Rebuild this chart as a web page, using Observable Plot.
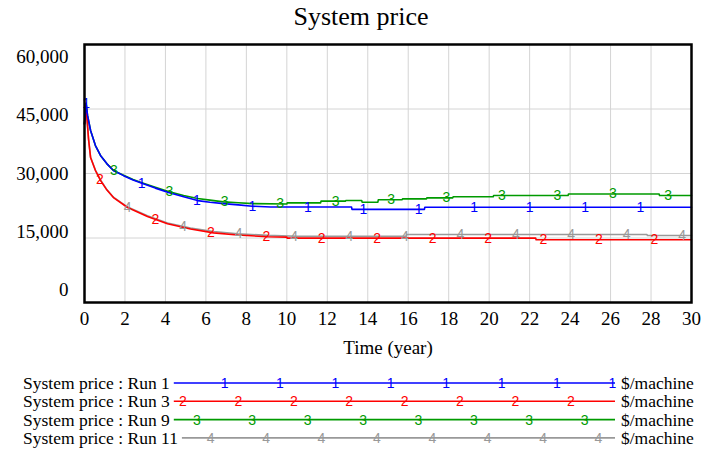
<!DOCTYPE html>
<html><head><meta charset="utf-8">
<script src="https://cdn.jsdelivr.net/npm/d3@7"></script>
<script src="https://cdn.jsdelivr.net/npm/@observablehq/plot@0.6"></script>
<style>
body{margin:0;background:#fff;font-family:"Liberation Serif","Times New Roman",serif;}
#title{width:707px;height:34px;line-height:34px;box-sizing:border-box;padding-left:15px;text-align:center;font-size:26px;color:#000;}
svg{display:block;}
</style></head>
<body>
<div id="title">System price</div>
<div id="chart"></div>
<div id="legend"></div>
<script>
// ---- data ----
const time1  = [0, 0.08, 0.15, 0.3, 0.54, 0.79, 1.1, 1.43, 1.93, 2.4, 2.87, 3.5, 4.15, 4.9, 5.59, 6.2, 6.87, 7.6, 8.3, 9.2, 13.2, 13.22, 16.8, 16.82, 30];
const price1 = [41500, 46300, 43500, 40000, 36500, 34200, 32300, 30700, 29500, 28500, 27700, 26600, 25600, 24600, 23700, 23300, 23000, 22700, 22400, 22200, 22200, 21650, 21650, 22150, 22150];

const time3  = [0, 0.08, 0.2, 0.3, 0.54, 0.79, 1.1, 1.43, 2.13, 3.11, 4.1, 5.24, 6.38, 7.56, 9.05, 10.0, 10.02, 22.3, 22.32, 30];
const price3 = [41500, 45500, 38000, 33700, 30700, 28400, 26200, 24400, 22100, 20000, 18300, 17100, 16200, 15700, 15300, 15200, 14960, 14960, 14580, 14580];

const time9  = [0, 0.08, 0.15, 0.3, 0.54, 0.79, 1.1, 1.43, 1.93, 2.4, 2.87, 3.5, 4.15, 4.9, 5.59, 6.2, 6.87, 7.6, 8.3, 10.0, 10.02, 11.67, 11.69, 12.9, 12.92, 13.7, 13.72, 14.5, 14.52, 15.7, 15.72, 16.9, 16.92, 18.2, 18.22, 20.2, 20.22, 23.9, 23.92, 28.4, 28.42, 30];
const price9 = [41500, 46300, 43500, 40000, 36500, 34200, 32300, 30700, 29600, 28600, 27800, 26800, 25800, 24900, 24200, 23800, 23400, 23200, 23000, 22900, 23180, 23180, 23570, 23570, 23720, 23720, 23330, 23330, 23880, 23880, 24110, 24110, 24340, 24340, 24600, 24600, 24900, 24900, 25250, 25250, 24900, 24900];

const time11  = [0, 0.08, 0.2, 0.3, 0.54, 0.79, 1.1, 1.43, 2.13, 3.11, 4.1, 5.24, 6.38, 7.56, 9.05, 10.5, 15.9, 15.92, 27.8, 27.82, 30];
const price11 = [41500, 45500, 38000, 33800, 30800, 28500, 26300, 24500, 22200, 20200, 18500, 17300, 16500, 16000, 15600, 15420, 15420, 15810, 15810, 15580, 15580];

const runNames   = ["System price : Run 1", "System price : Run 3", "System price : Run 9", "System price : Run 11"];
const runMarkers = ["1", "2", "3", "4"];
const runColors  = ["#0000ff", "#ff0000", "#009a00", "#999999"];
const unitLabel  = "$/machine";
const xTicks = [0, 2, 4, 6, 8, 10, 12, 14, 16, 18, 20, 22, 24, 26, 28, 30];
const yTicks = [0, 15000, 30000, 45000, 60000];
const xLabel = "Time (year)";

// ---- build ----
const series = [[time1, price1], [time3, price3], [time9, price9], [time11, price11]].map(([t, v], i) => ({
  rows: d3.zip(t, v), name: runNames[i], marker: runMarkers[i], color: runColors[i], index: i
}));

// value of a run at time t, read along its own drawn polyline
function valueAt(rows, t) {
  const i = d3.bisector(d => d[0]).right(rows, t);
  if (i <= 0) return rows[0][1];
  if (i >= rows.length) return rows[rows.length - 1][1];
  const [t0, v0] = rows[i - 1], [t1, v1] = rows[i];
  return v0 + (v1 - v0) * (t - t0) / (t1 - t0);
}

// Vensim-style marker placement along each line
const markFirst = 0.08, markShift = 0.685, markStep = 2.74;
function markerRows(s) {
  const out = [];
  for (let t = markFirst + s.index * markShift; t <= 30; t += markStep) out.push([t, valueAt(s.rows, t)]);
  return out;
}

const drawOrder = [3, 2, 1, 0].map(i => series[i]);
const grid = "#d4d4d4";

const chart = Plot.plot({
  width: 707, height: 326,
  marginLeft: 84, marginRight: 16, marginTop: 10, marginBottom: 58,
  style: {fontFamily: '"Liberation Serif","Times New Roman",serif', fontSize: "19px", color: "#000", background: "#fff"},
  x: {domain: [0, 30]},
  y: {domain: [0, 60000]},
  marks: [
    Plot.gridX(xTicks, {stroke: grid, strokeOpacity: 1, strokeWidth: 1}),
    Plot.gridY(yTicks, {stroke: grid, strokeOpacity: 1, strokeWidth: 1}),
    Plot.axisX({ticks: xTicks, tickSize: 0, tickPadding: 9, label: xLabel, labelAnchor: "center", labelOffset: 51, labelArrow: "none"}),
    ...yTicks.map(v => Plot.axisY({ticks: [v], tickSize: 0, tickPadding: 16, tickFormat: d3.format(","), dy: (v - 30000) / 15000 * 6.3, label: null})),
    ...drawOrder.map(s => Plot.line(s.rows, {x: d => d[0], y: d => d[1], stroke: s.color, strokeWidth: 1.6})),
    ...drawOrder.map(s => Plot.text(markerRows(s), {x: d => d[0], y: d => d[1], text: () => s.marker, fill: s.color, fontFamily: '"Liberation Sans",Arial,sans-serif', fontSize: 14})),
    Plot.frame({stroke: "#000", strokeWidth: 2.5})
  ]
});
document.getElementById("chart").append(chart);

// ---- legend (below the chart) ----
const lg = d3.create("svg").attr("width", 707).attr("height", 90);
document.getElementById("legend").append(lg.node());   // attach first so text can be measured
const rowY0 = 23, rowGap = 18.3, lineEnd = 615;
const legFirst = 183, legShift = 13.85, legStep = 55.4;
const serif = '"Liberation Serif","Times New Roman",serif';
const legendFont = 17.5;
series.forEach((s, i) => {
  const y = rowY0 + i * rowGap;
  const label = lg.append("text").attr("x", 23).attr("y", y).attr("dy", "0.35em")
    .attr("font-family", serif).attr("font-size", legendFont).attr("fill", "#000").text(s.name);
  const textEnd = 23 + label.node().getComputedTextLength();
  lg.append("line").attr("x1", textEnd + 4).attr("x2", lineEnd).attr("y1", y).attr("y2", y)
    .attr("stroke", s.color).attr("stroke-width", 1.6);
  const first = legFirst + ((s.index + 3) % 4) * legShift;
  for (let k = 0; k < 8; k++) {
    lg.append("text").attr("x", first + k * legStep).attr("y", y).attr("dy", "0.35em").attr("text-anchor", "middle")
      .attr("font-family", '"Liberation Sans",Arial,sans-serif').attr("font-size", 14).attr("fill", s.color).text(s.marker);
  }
  lg.append("text").attr("x", 621).attr("y", y).attr("dy", "0.35em")
    .attr("font-family", serif).attr("font-size", legendFont).attr("fill", "#000").text(unitLabel);
});
</script>
</body></html>
